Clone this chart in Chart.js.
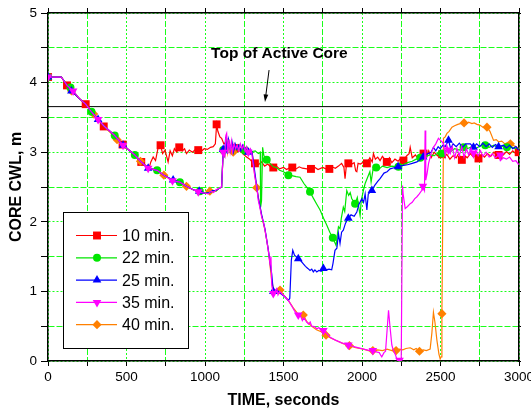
<!DOCTYPE html>
<html>
<head>
<meta charset="utf-8">
<script src="https://cdn.jsdelivr.net/npm/chart.js@4.4.1/dist/chart.umd.min.js"></script>
<style>
  html, body { margin: 0; padding: 0; background: #fff; }
  #wrap { width: 531px; height: 412px; }
</style>
</head>
<body>
<div id="wrap"><canvas id="cwlChart" width="531" height="412"></canvas></div>
<script>
// ─── DATA: time [s] vs core collapsed water level [m] ──────────────
const timeRange  = [0, 3000];
const levelRange = [0, 5];
const topOfActiveCore = 3.655;

const cwl10 = [
  [0,4.08],[40,4.08],[85,4.08],[121,3.96],[160,3.86],[200,3.77],[240,3.69],[277,3.58],[319,3.47],[355,3.37],
  [425,3.24],[478,3.10],[553,2.96],[589,2.87],[627,2.80],[645,2.78],[655,2.86],[670,2.93],[685,2.88],[700,3.05],
  [717,3.10],[730,2.98],[745,3.03],[765,2.86],[778,3.02],[792,2.95],[805,3.05],[820,3.00],[836,3.07],[855,3.02],
  [870,3.05],[882,2.98],[900,3.03],[920,3.00],[940,3.04],[957,3.03],[975,3.01],[995,3.05],[1015,3.04],[1035,3.07],
  [1052,3.08],[1066,3.12],[1074,3.40],[1082,3.30],[1095,3.22],[1106,3.20],[1120,3.12],[1140,3.15],[1160,3.08],[1180,3.10],
  [1200,3.05],[1220,3.06],[1240,2.98],[1265,2.93],[1285,2.90],[1300,2.86],[1318,2.84],[1340,2.82],[1360,2.86],[1380,2.80],
  [1400,2.83],[1420,2.78],[1435,2.78],[1455,2.80],[1475,2.76],[1500,2.78],[1520,2.75],[1540,2.78],[1556,2.78],[1580,2.76],
  [1600,2.79],[1620,2.77],[1650,2.76],[1675,2.76],[1700,2.78],[1720,2.75],[1750,2.78],[1770,2.76],[1792,2.76],[1810,2.79],
  [1830,2.77],[1850,2.80],[1870,2.84],[1885,2.78],[1892,2.62],[1900,2.80],[1913,2.84],[1935,2.83],[1950,2.85],[1960,2.73],
  [1967,2.72],[1975,2.84],[1990,2.83],[2010,2.86],[2031,2.84],[2050,2.92],[2065,2.86],[2073,2.98],[2085,2.90],[2100,2.93],
  [2115,2.88],[2130,2.94],[2158,2.86],[2175,2.92],[2190,2.85],[2210,2.90],[2230,2.87],[2250,2.92],[2264,2.88],[2285,2.95],
  [2300,2.98],[2307,3.07],[2320,2.92],[2340,2.96],[2360,2.90],[2375,3.00],[2392,2.98],[2410,2.94],[2425,3.02],[2440,2.92],
  [2460,3.00],[2480,2.95],[2500,3.02],[2520,2.92],[2540,2.97],[2560,2.90],[2580,2.95],[2600,2.92],[2615,2.98],[2636,2.89],
  [2655,2.95],[2670,2.92],[2690,2.98],[2710,2.93],[2725,2.97],[2742,2.91],[2760,2.97],[2780,2.93],[2800,2.98],[2820,2.94],
  [2840,3.00],[2860,2.95],[2880,2.99],[2900,2.96],[2920,3.01],[2940,2.97],[2960,3.02],[2980,2.98],[2998,3.00]
];
const marks10 = [
  [0,4.08],[121,3.96],[240,3.69],[355,3.37],[475,3.11],[594,2.86],[717,3.10],[836,3.07],[957,3.03],[1074,3.40],
  [1195,3.06],[1318,2.84],[1435,2.78],[1556,2.78],[1675,2.76],[1792,2.76],[1913,2.84],[2031,2.84],[2158,2.86],
  [2264,2.88],[2392,2.98],[2510,2.97],[2636,2.89],[2742,2.91],[2870,2.96],[2998,3.00]
];

const cwl22 = [
  [0,4.08],[40,4.08],[85,4.08],[121,3.96],[143,3.93],[200,3.77],[240,3.69],[277,3.58],[319,3.47],[355,3.38],
  [425,3.24],[478,3.10],[553,2.96],[589,2.87],[638,2.77],[695,2.74],[738,2.67],[793,2.60],[840,2.57],[882,2.51],
  [925,2.46],[957,2.43],[1000,2.41],[1031,2.42],[1050,2.45],[1070,2.44],[1089,2.48],[1106,2.50],[1116,3.03],[1125,2.96],
  [1134,3.20],[1140,3.00],[1150,3.16],[1160,3.02],[1170,3.14],[1180,3.00],[1190,3.11],[1200,3.04],[1212,3.10],[1225,3.02],
  [1238,3.09],[1255,3.02],[1270,3.07],[1285,3.00],[1300,3.01],[1320,3.02],[1340,2.98],[1352,3.00],[1354,2.21],[1360,2.30],
  [1367,3.07],[1375,2.95],[1393,2.89],[1410,2.85],[1435,2.79],[1455,2.78],[1475,2.74],[1500,2.72],[1531,2.67],[1560,2.66],
  [1580,2.65],[1605,2.64],[1630,2.55],[1650,2.49],[1669,2.43],[1690,2.34],[1710,2.26],[1733,2.17],[1755,2.05],[1776,1.95],
  [1795,1.85],[1814,1.77],[1835,1.66],[1842,1.80],[1850,1.93],[1860,1.90],[1868,2.05],[1881,2.21],[1890,2.15],[1903,2.45],
  [1915,2.38],[1925,2.42],[1935,2.33],[1945,2.30],[1956,2.26],[1970,2.35],[1980,2.20],[1988,2.09],[1995,2.30],[2009,2.45],
  [2020,2.55],[2041,2.67],[2050,2.72],[2058,2.57],[2070,2.75],[2090,2.78],[2110,2.76],[2130,2.80],[2160,2.78],[2190,2.80],
  [2232,2.79],[2260,2.82],[2290,2.85],[2320,2.87],[2345,2.90],[2371,2.92],[2400,2.93],[2430,2.96],[2460,2.95],[2480,2.98],
  [2509,2.98],[2530,3.02],[2560,3.00],[2590,3.05],[2620,3.03],[2647,3.07],[2670,3.05],[2700,3.08],[2730,3.06],[2760,3.10],
  [2785,3.10],[2810,3.07],[2840,3.10],[2870,3.06],[2900,3.09],[2923,3.07],[2950,3.08],[2975,3.05],[2998,3.06]
];
const marks22 = [
  [0,4.08],[143,3.93],[277,3.58],[425,3.24],[553,2.96],[695,2.74],[840,2.57],[967,2.44],[1116,3.03],[1255,3.02],
  [1393,2.89],[1531,2.67],[1669,2.43],[1814,1.77],[1956,2.26],[2090,2.78],[2232,2.79],[2371,2.92],[2509,2.98],
  [2647,3.07],[2785,3.10],[2923,3.07]
];

const cwl25 = [
  [0,4.08],[40,4.08],[85,4.08],[121,3.96],[149,3.88],[200,3.77],[240,3.69],[277,3.58],[319,3.47],[355,3.38],
  [425,3.24],[478,3.10],[553,2.96],[589,2.87],[638,2.77],[695,2.74],[738,2.67],[797,2.60],[840,2.57],[882,2.51],
  [925,2.46],[963,2.44],[1000,2.41],[1031,2.42],[1050,2.45],[1070,2.45],[1089,2.48],[1106,2.50],[1116,3.04],[1124,2.97],
  [1132,3.22],[1142,2.98],[1150,3.18],[1162,3.03],[1172,3.15],[1182,3.01],[1192,3.12],[1204,3.04],[1216,3.10],[1228,3.02],
  [1240,3.10],[1252,3.03],[1264,3.07],[1276,3.00],[1290,3.04],[1300,3.00],[1318,2.70],[1339,2.35],[1361,2.10],[1382,1.90],
  [1403,1.60],[1425,1.25],[1435,1.00],[1457,1.02],[1488,0.96],[1510,0.92],[1531,0.87],[1540,0.90],[1550,1.45],[1559,1.59],
  [1570,1.52],[1580,1.50],[1594,1.47],[1610,1.44],[1625,1.40],[1640,1.36],[1655,1.33],[1669,1.30],[1680,1.32],[1690,1.28],
  [1700,1.31],[1712,1.28],[1725,1.30],[1740,1.29],[1754,1.33],[1770,1.31],[1790,1.32],[1807,1.31],[1815,1.40],[1828,1.59],
  [1840,1.62],[1850,1.83],[1860,1.69],[1870,1.85],[1881,1.88],[1895,1.98],[1913,2.05],[1930,2.10],[1950,2.08],[1967,2.14],
  [1980,2.25],[1999,2.33],[2010,2.28],[2020,2.40],[2031,2.17],[2040,2.40],[2063,2.45],[2080,2.52],[2100,2.58],[2115,2.62],
  [2140,2.70],[2160,2.72],[2179,2.76],[2210,2.78],[2240,2.80],[2264,2.81],[2290,2.82],[2320,2.84],[2350,2.86],[2375,2.90],
  [2402,2.96],[2420,2.98],[2440,3.00],[2455,3.07],[2470,3.02],[2485,3.08],[2498,3.05],[2515,3.10],[2530,3.08],[2551,3.17],
  [2565,3.05],[2580,3.12],[2600,3.08],[2620,3.13],[2640,3.07],[2660,3.12],[2690,3.12],[2710,3.07],[2730,3.12],[2750,3.08],
  [2770,3.13],[2790,3.08],[2810,3.12],[2830,3.07],[2850,3.11],[2870,3.08],[2902,3.10],[2920,3.06],[2940,3.10],[2960,3.05],
  [2980,3.08],[2998,3.03]
];
const marks25 = [
  [0,4.08],[149,3.88],[319,3.47],[478,3.10],[638,2.77],[797,2.60],[963,2.44],[1116,3.04],[1276,3.00],[1435,1.00],
  [1594,1.47],[1754,1.33],[1913,2.05],[2063,2.45],[2230,2.79],[2390,2.93],[2551,3.17],[2710,3.07],[2870,3.08]
];

const cwl35 = [
  [0,4.08],[40,4.08],[85,4.08],[121,3.96],[160,3.88],[200,3.77],[240,3.69],[277,3.58],[319,3.47],[355,3.38],
  [425,3.24],[478,3.10],[553,2.96],[589,2.87],[638,2.77],[695,2.74],[738,2.67],[793,2.59],[840,2.57],[882,2.51],
  [925,2.46],[957,2.43],[1000,2.41],[1020,2.40],[1040,2.44],[1055,2.42],[1070,2.46],[1089,2.48],[1106,2.50],[1116,3.00],
  [1126,2.94],[1133,3.24],[1138,3.27],[1145,2.98],[1152,3.18],[1160,3.01],[1168,3.16],[1176,3.00],[1185,3.12],[1195,3.05],
  [1205,3.10],[1215,3.02],[1225,3.12],[1235,3.05],[1245,3.10],[1255,3.02],[1265,3.08],[1276,3.00],[1288,3.05],[1297,3.00],
  [1318,2.64],[1330,2.50],[1339,2.31],[1350,2.20],[1361,2.07],[1372,2.00],[1382,1.88],[1392,1.75],[1403,1.59],[1414,1.40],
  [1420,1.50],[1425,1.09],[1435,0.97],[1445,1.00],[1457,1.04],[1465,0.95],[1475,1.00],[1488,0.97],[1510,0.92],[1531,0.87],
  [1550,0.80],[1570,0.72],[1594,0.66],[1610,0.64],[1620,0.58],[1630,0.62],[1648,0.56],[1660,0.53],[1670,0.56],[1680,0.50],
  [1701,0.49],[1712,0.46],[1725,0.48],[1740,0.44],[1754,0.44],[1775,0.40],[1797,0.34],[1830,0.30],[1870,0.26],[1913,0.23],
  [1960,0.20],[2010,0.17],[2050,0.15],[2069,0.15],[2090,0.13],[2110,0.12],[2120,0.08],[2126,0.06],[2140,0.12],[2150,0.14],
  [2160,0.45],[2169,0.73],[2178,0.50],[2190,0.23],[2196,0.18],[2211,0.10],[2222,0.03],[2239,0.01],[2250,0.02],[2254,0.02],
  [2258,2.52],[2262,2.40],[2275,2.19],[2290,2.22],[2307,2.26],[2320,2.28],[2335,2.33],[2350,2.36],[2365,2.40],[2380,2.45],
  [2388,2.51],[2398,2.45],[2402,3.31],[2406,2.60],[2415,2.70],[2424,2.84],[2440,2.98],[2455,3.07],[2470,3.12],[2487,3.20],
  [2500,3.17],[2509,3.15],[2520,3.12],[2530,2.95],[2540,3.10],[2551,3.03],[2562,2.98],[2575,3.08],[2590,2.92],[2605,3.05],
  [2620,2.95],[2635,3.08],[2650,2.93],[2665,3.05],[2680,2.96],[2695,3.06],[2710,2.93],[2725,3.03],[2740,2.95],[2755,3.02],
  [2770,2.94],[2790,3.00],[2810,2.93],[2830,2.98],[2850,2.92],[2870,2.96],[2881,2.88],[2900,2.92],[2920,2.90],[2940,2.93],
  [2960,2.87],[2980,2.88],[2998,2.82]
];
const marks35 = [
  [0,4.08],[160,3.88],[319,3.47],[478,3.10],[638,2.77],[793,2.59],[957,2.43],[1116,3.00],[1276,3.00],[1435,0.97],
  [1594,0.66],[1754,0.44],[1913,0.23],[2069,0.15],[2239,0.01],[2388,2.51],[2551,3.03],[2710,2.99],[2881,2.96]
];

const cwl40 = [
  [0,4.08],[40,4.08],[85,4.08],[121,3.96],[150,3.88],[200,3.77],[240,3.69],[291,3.55],[319,3.47],[355,3.38],
  [440,3.18],[478,3.10],[553,2.96],[589,2.87],[638,2.77],[695,2.74],[738,2.67],[793,2.59],[840,2.57],[882,2.51],
  [925,2.46],[957,2.43],[1000,2.41],[1031,2.44],[1050,2.45],[1070,2.44],[1089,2.48],[1106,2.50],[1116,3.02],[1126,2.95],
  [1134,3.18],[1144,2.99],[1154,3.14],[1164,3.02],[1180,3.00],[1192,3.10],[1204,3.03],[1216,3.09],[1228,3.01],[1242,3.08],
  [1256,3.02],[1270,3.06],[1285,2.99],[1300,3.00],[1315,2.70],[1329,2.49],[1340,2.35],[1361,2.08],[1382,1.88],[1403,1.60],
  [1425,1.15],[1440,1.00],[1457,1.03],[1478,1.02],[1500,0.95],[1531,0.87],[1560,0.77],[1594,0.67],[1626,0.66],[1650,0.56],
  [1680,0.50],[1710,0.45],[1740,0.42],[1771,0.37],[1800,0.33],[1840,0.29],[1880,0.25],[1920,0.22],[1960,0.19],[2010,0.17],
  [2040,0.15],[2069,0.15],[2100,0.16],[2130,0.15],[2160,0.17],[2190,0.15],[2211,0.18],[2217,0.15],[2240,0.17],[2260,0.16],
  [2280,0.18],[2307,0.19],[2330,0.16],[2345,0.18],[2366,0.14],[2390,0.16],[2410,0.15],[2434,0.17],[2445,0.40],[2455,0.70],
  [2465,0.55],[2477,0.30],[2490,0.10],[2498,0.03],[2504,0.06],[2509,0.68],[2514,2.00],[2519,3.20],[2530,3.22],[2541,3.27],
  [2555,3.30],[2573,3.36],[2590,3.38],[2610,3.40],[2626,3.41],[2645,3.42],[2660,3.40],[2679,3.43],[2700,3.41],[2715,3.42],
  [2732,3.40],[2750,3.39],[2770,3.36],[2796,3.36],[2815,3.30],[2838,3.17],[2855,3.18],[2870,3.15],[2890,3.16],[2910,3.12],
  [2930,3.14],[2945,3.12],[2960,3.10],[2980,3.08],[2998,3.05]
];
const marks40 = [
  [0,4.08],[150,3.88],[291,3.55],[440,3.18],[589,2.87],[738,2.67],[882,2.51],[1031,2.44],[1180,3.00],[1329,2.49],
  [1478,1.02],[1626,0.66],[1771,0.37],[1920,0.22],[2069,0.15],[2217,0.15],[2366,0.14],[2509,0.68],[2650,3.42],
  [2796,3.36],[2945,3.12]
];

// ─── SERIES STYLE ──────────────────────────────────────────────────
const FONT = "'Liberation Sans', Arial, Helvetica, sans-serif";
const GRID_GREEN = '#1aff1a';

const series = [
  { label: '10 min.', line: cwl10, marks: marks10, color: '#ff0000', style: 'rect',     radius: 5.6, rotation: 0,   z: 5 },
  { label: '22 min.', line: cwl22, marks: marks22, color: '#00e600', style: 'circle',   radius: 4,   rotation: 0,   z: 3 },
  { label: '25 min.', line: cwl25, marks: marks25, color: '#0000ff', style: 'triangle', radius: 5,   rotation: 0,   z: 2 },
  { label: '35 min.', line: cwl35, marks: marks35, color: '#ff00ff', style: 'triangle', radius: 5,   rotation: 180, z: 1 },
  { label: '40 min.', line: cwl40, marks: marks40, color: '#ff8000', style: 'rectRot',  radius: 4.6, rotation: 0,   z: 4 }
];

const toXY = pts => pts.map(([t, v]) => ({ x: t, y: v }));

function buildDatasets() {
    const sets = [];
    series.forEach(s => {
        sets.push({
            type: 'line', label: s.label, data: toXY(s.line),
            borderColor: s.color, borderWidth: 1.2, pointRadius: 0, tension: 0,
            order: s.z * 2 + 1
        });
        sets.push({
            type: 'scatter', label: s.label + ' marks', data: toXY(s.marks),
            showLine: false, pointStyle: s.style, pointRotation: s.rotation, pointRadius: s.radius,
            backgroundColor: s.color, borderColor: s.color, borderWidth: 0,
            order: s.z * 2
        });
    });
    // horizontal reference at the top of the active fuel
    sets.push({
        type: 'line', label: 'TAF',
        data: toXY([[timeRange[0], topOfActiveCore], [timeRange[1], topOfActiveCore]]),
        borderColor: '#000', borderWidth: 1, pointRadius: 0, order: 20
    });
    return sets;
}

// ─── PLUGINS: inset legend + TAF annotation ───────────────────────
const insetLegend = {
    id: 'insetLegend',
    afterDatasetsDraw(chart) {
        const { ctx, chartArea } = chart;
        const x0 = chartArea.left + 15, w = 125, h = 136;
        const y0 = chartArea.bottom - 13 - h;
        ctx.save();
        ctx.fillStyle = '#fff';
        ctx.fillRect(x0, y0, w, h);
        ctx.strokeStyle = '#000';
        ctx.lineWidth = 1;
        ctx.strokeRect(x0 + 0.5, y0 + 0.5, w, h);
        ctx.font = '16px ' + FONT;
        ctx.textBaseline = 'middle';
        series.forEach((s, i) => {
            const cy = y0 + 23.5 + i * 22.3;
            ctx.strokeStyle = s.color;
            ctx.lineWidth = 1.2;
            ctx.beginPath();
            ctx.moveTo(x0 + 13, cy);
            ctx.lineTo(x0 + 54, cy);
            ctx.stroke();
            ctx.fillStyle = s.color;
            Chart.helpers.drawPoint(ctx, { pointStyle: s.style, rotation: s.rotation, radius: s.radius, borderWidth: 0 }, x0 + 34, cy);
            ctx.fillStyle = '#000';
            ctx.fillText(s.label, x0 + 59, cy + 1);
        });
        ctx.restore();
    }
};

const tafNote = { text: 'Top of Active Core', at: [1474, 4.42], arrowFrom: [1408, 4.18], arrowTo: [1382, 3.72] };

const tafAnnotation = {
    id: 'tafAnnotation',
    afterDatasetsDraw(chart) {
        const { ctx, scales: { x, y } } = chart;
        ctx.save();
        ctx.font = 'bold 15.5px ' + FONT;
        ctx.fillStyle = '#000';
        ctx.textAlign = 'center';
        ctx.textBaseline = 'middle';
        ctx.fillText(tafNote.text, x.getPixelForValue(tafNote.at[0]), y.getPixelForValue(tafNote.at[1]));

        const x1 = x.getPixelForValue(tafNote.arrowFrom[0]), y1 = y.getPixelForValue(tafNote.arrowFrom[1]);
        const x2 = x.getPixelForValue(tafNote.arrowTo[0]),   y2 = y.getPixelForValue(tafNote.arrowTo[1]);
        const ang = Math.atan2(y2 - y1, x2 - x1);
        ctx.strokeStyle = '#000';
        ctx.lineWidth = 1;
        ctx.beginPath();
        ctx.moveTo(x1, y1);
        ctx.lineTo(x2 - Math.cos(ang) * 4, y2 - Math.sin(ang) * 4);
        ctx.stroke();
        ctx.beginPath();
        ctx.moveTo(x2, y2);
        ctx.lineTo(x2 - 8 * Math.cos(ang - 0.3), y2 - 8 * Math.sin(ang - 0.3));
        ctx.lineTo(x2 - 8 * Math.cos(ang + 0.3), y2 - 8 * Math.sin(ang + 0.3));
        ctx.closePath();
        ctx.fill();
        ctx.restore();
    }
};

// ─── AXES ──────────────────────────────────────────────────────────
const tickFont = { family: FONT, size: 13.5 };
const titleFont = { family: FONT, size: 16, weight: 'bold' };

// dotted grid on labelled values, dashed grid in between
function gridDash(ctx, major) {
    if (!ctx.tick) return [];
    return ctx.tick.value % major === 0 ? [2, 2] : [6, 2];
}

function fixSize(prop, px) {
    return s => { s[prop] = px; s.paddingLeft = 0; s.paddingRight = 0; s.paddingTop = 0; s.paddingBottom = 0; };
}

const frame = { display: true, color: '#000', width: 1.5 };

new Chart(document.getElementById('cwlChart'), {
    data: { datasets: buildDatasets() },
    plugins: [tafAnnotation, insetLegend],
    options: {
        responsive: false, animation: false, devicePixelRatio: 1, events: [],
        layout: { padding: 0 },
        plugins: { legend: { display: false }, tooltip: { enabled: false } },
        scales: {
            x: {
                type: 'linear', position: 'bottom', min: timeRange[0], max: timeRange[1],
                ticks: { stepSize: 250, autoSkip: false, maxRotation: 0, padding: 3.5, color: '#000', font: tickFont,
                         callback: v => (v % 500 === 0 ? v : '') },
                grid: { color: GRID_GREEN, lineWidth: 1, tickLength: 5, tickColor: '#000' },
                border: { ...frame, dash: ctx => gridDash(ctx, 500) },
                title: { display: true, text: 'TIME, seconds', color: '#000', font: titleFont, padding: { top: 0, bottom: 2 } },
                afterFit: fixSize('height', 51)
            },
            xTop: {
                type: 'linear', position: 'top', min: timeRange[0], max: timeRange[1],
                ticks: { stepSize: 250, autoSkip: false, callback: () => '' },
                grid: { drawOnChartArea: false, tickLength: 5, tickColor: '#000' },
                border: frame,
                afterFit: fixSize('height', 13)
            },
            y: {
                type: 'linear', position: 'left', min: levelRange[0], max: levelRange[1],
                ticks: { stepSize: 0.5, autoSkip: false, padding: 4, color: '#000', font: tickFont,
                         callback: v => (v % 1 === 0 ? v : '') },
                grid: { color: GRID_GREEN, lineWidth: 1, tickLength: 7, tickColor: '#000' },
                border: { ...frame, dash: ctx => gridDash(ctx, 1) },
                title: { display: true, text: 'CORE CWL, m', color: '#000', font: titleFont, padding: { top: 7, bottom: 0 } },
                afterFit: fixSize('width', 48)
            },
            yRight: {
                type: 'linear', position: 'right', min: levelRange[0], max: levelRange[1],
                ticks: { stepSize: 0.5, autoSkip: false, callback: () => '' },
                grid: { drawOnChartArea: false, tickLength: 2, tickColor: '#000' },
                border: frame,
                afterFit: fixSize('width', 12)
            }
        }
    }
});
</script>
</body>
</html>
